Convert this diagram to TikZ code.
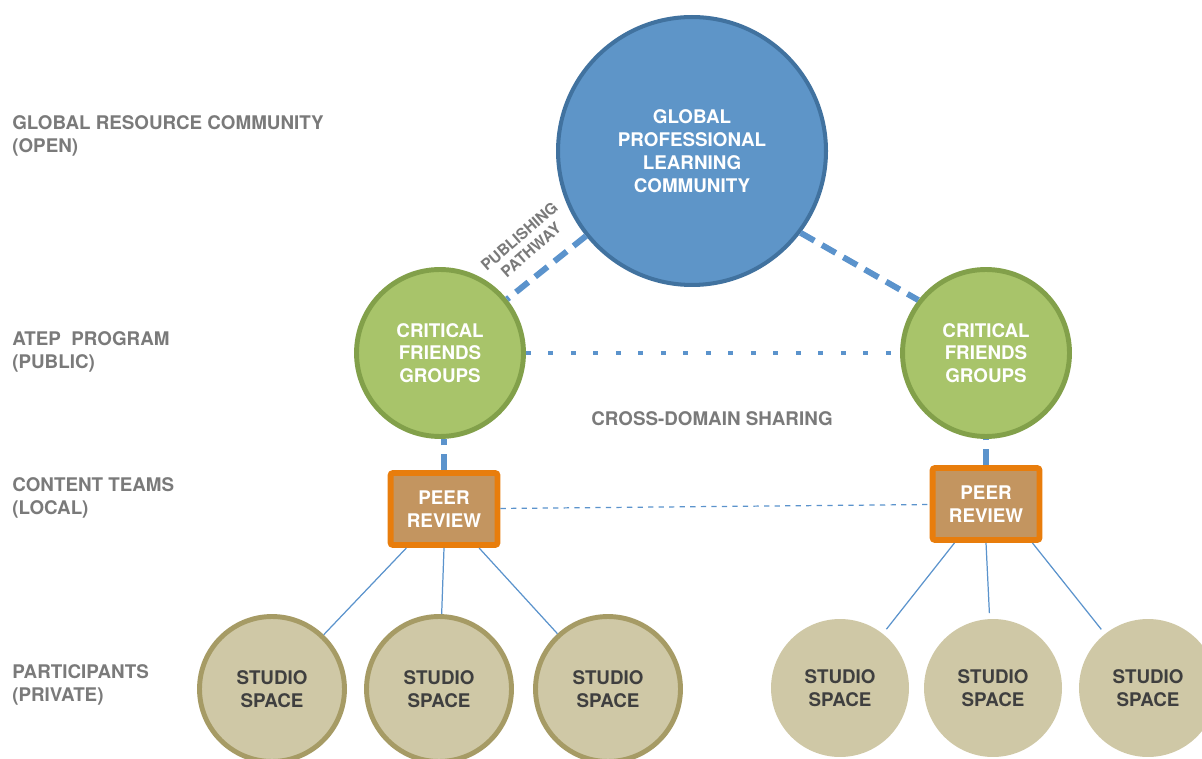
\documentclass[tikz,border=0pt]{standalone}
\usepackage{fontspec}
\setmainfont{TeX Gyre Heros}
\usepackage{tikz}
\definecolor{plcblue}{HTML}{5E95C8}
\definecolor{plcedge}{HTML}{41729F}
\definecolor{linkblue}{HTML}{5B93CC}
\definecolor{cfgfill}{HTML}{A8C46A}
\definecolor{cfgedge}{HTML}{82A04A}
\definecolor{peerfill}{HTML}{C39560}
\definecolor{peeredge}{HTML}{E87D0C}
\definecolor{studiofill}{HTML}{CFC8A6}
\definecolor{studioedge}{HTML}{A69B65}
\definecolor{labelgray}{HTML}{7A7A7A}
\definecolor{studiotext}{HTML}{3F3F3F}

\begin{document}
\begin{tikzpicture}[x=0.02cm,y=-0.02cm]
					\tikzstyle{level}=[anchor=west,align=left,inner sep=0pt,text=labelgray,font=\bfseries\fontsize{10.7}{13}\selectfont]
					\tikzstyle{plc}=[circle,fill=plcblue,draw=plcedge,line width=2.3pt,minimum size=5.36cm,align=center,text=white,font=\bfseries\fontsize{10.7}{13}\selectfont]
					\tikzstyle{cfg}=[circle,fill=cfgfill,draw=cfgedge,line width=2.8pt,minimum size=3.34cm,align=center,text=white,font=\bfseries\fontsize{10.7}{13}\selectfont]
					\tikzstyle{peer}=[rectangle,rounded corners=1.5pt,fill=peerfill,draw=peeredge,line width=3.4pt,minimum width=2.14cm,minimum height=1.44cm,align=center,text=white,font=\bfseries\fontsize{10.7}{13}\selectfont]
					\tikzstyle{studio}=[circle,fill=studiofill,draw=studioedge,line width=2.8pt,minimum size=2.9cm,align=center,text=studiotext,font=\bfseries\fontsize{10.7}{13}\selectfont]
					\tikzstyle{studiobare}=[circle,fill=studiofill,minimum size=2.76cm,outer sep=3.4pt,align=center,text=studiotext,font=\bfseries\fontsize{10.7}{13}\selectfont]
					\tikzstyle{bigdash}=[draw=linkblue,line width=3.4pt,dash pattern=on 9pt off 5pt]
					\tikzstyle{dotlink}=[draw=linkblue,line width=2.8pt,dash pattern=on 2.8pt off 10pt]
					\tikzstyle{thinlink}=[draw=linkblue,line width=0.7pt]
					\useasboundingbox (0,0) rectangle (1202,759);
					\node[level](lvopen) at (12,136) {GLOBAL RESOURCE COMMUNITY\\(OPEN)};
					\node[level](lvpublic) at (12,352) {ATEP~ PROGRAM\\(PUBLIC)};
					\node[level](lvlocal) at (12,498) {CONTENT TEAMS\\(LOCAL)};
					\node[level](lvprivate) at (12,685) {PARTICIPANTS\\(PRIVATE)};
					\node[plc](gplc) at (692,151) {GLOBAL\\PROFESSIONAL\\LEARNING\\COMMUNITY};
					\node[cfg](cfgl) at (440,353) {CRITICAL\\FRIENDS\\GROUPS};
					\node[cfg](cfgr) at (986,353) {CRITICAL\\FRIENDS\\GROUPS};
					\node[peer](prl) at (444,509) {PEER\\REVIEW};
					\node[peer](prr) at (986,504) {PEER\\REVIEW};
					\node[studio](ssl1) at (272,689) {STUDIO\\SPACE};
					\node[studio](ssl2) at (439,689) {STUDIO\\SPACE};
					\node[studio](ssl3) at (608,689) {STUDIO\\SPACE};
					\node[studiobare](ssr1) at (840,688) {STUDIO\\SPACE};
					\node[studiobare](ssr2) at (993,688) {STUDIO\\SPACE};
					\node[studiobare](ssr3) at (1148,688) {STUDIO\\SPACE};
					\node[text=labelgray,font=\bfseries\fontsize{8.8}{10.2}\selectfont,align=center,rotate=41,inner sep=1pt](pubpath) at (525,243) {PUBLISHING\\PATHWAY};
					\node[text=labelgray,font=\bfseries\fontsize{10.7}{13}\selectfont](cross) at (712,419) {CROSS-DOMAIN SHARING};
   					\draw[bigdash] (gplc) to (cfgl);
   					\draw[bigdash] (gplc.-37) to (cfgr.142);
   					\draw[dotlink] (cfgl) to (cfgr);
   					\draw[bigdash] (prl.north) to (prl.north |- cfgl.south);
   					\draw[bigdash] (prr.north) to (prr.north |- cfgr.south);
   					\draw[thinlink,dashed] (prl) to (prr);
					\draw[thinlink] (prl.226) to (ssl1);
					\draw[thinlink] (prl.south) to (ssl2);
					\draw[thinlink] (prl.312) to (ssl3);
					\draw[thinlink] (prr.231) to (ssr1);
					\draw[thinlink] (prr.south) to (ssr2);
					\draw[thinlink] (prr.320) to (ssr3);
				\end{tikzpicture}
\end{document}
